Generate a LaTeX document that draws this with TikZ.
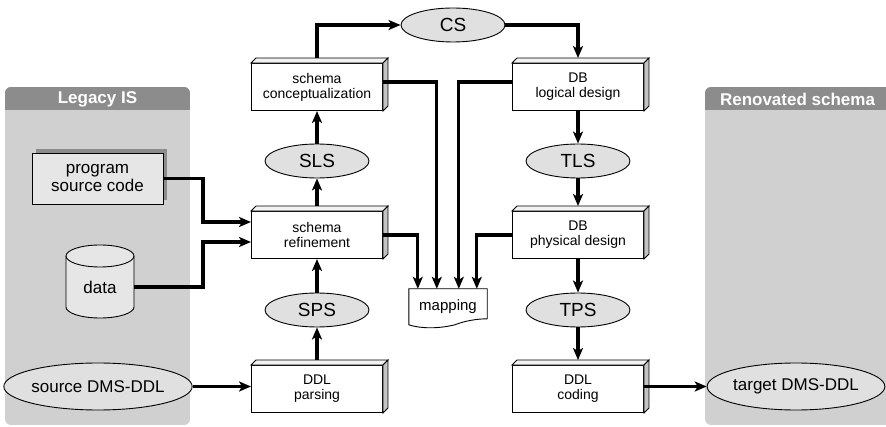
\documentclass[tikz,border=0pt]{standalone}
\usepackage{fontspec}
\setmainfont{Liberation Sans}
\usetikzlibrary{arrows.meta,calc,shapes.geometric}
\definecolor{panel}{RGB}{208,208,208}
\definecolor{panelhead}{RGB}{140,140,140}
\definecolor{ellfill}{RGB}{224,224,224}
\definecolor{sidefill}{RGB}{195,195,195}
\definecolor{topfill}{RGB}{242,242,242}
\definecolor{psfill}{RGB}{230,230,230}
\definecolor{shadowc}{RGB}{140,140,140}
\newcommand\boxdepth[1]{%
  \draw[line width=0.9pt, fill=topfill] (#1.north west) -- ++(5,-5) -- ($(#1.north east)+(5,-5)$) -- (#1.north east) -- cycle;
  \draw[line width=0.9pt, fill=sidefill] (#1.north east) -- ++(5,-5) -- ($(#1.south east)+(5,-5)$) -- (#1.south east) -- cycle;}
\begin{document}
\begin{tikzpicture}[x=1pt,y=-1pt,
  box3d/.style={draw, line width=0.9pt, fill=white, minimum width=131pt, minimum height=47pt, align=center, font=\fontsize{14}{15}\selectfont, inner sep=0pt},
  oval/.style={ellipse, draw, line width=0.9pt, fill=ellfill, minimum width=104pt, minimum height=34pt, font=\fontsize{19}{20}\selectfont, inner sep=0pt},
  bigoval/.style={oval, minimum width=172pt, minimum height=47pt, font=\fontsize{17}{18}\selectfont},
  flow/.style={line width=3.3pt, -{Stealth[length=12pt,width=10pt,inset=3pt]}},
  headtext/.style={font=\bfseries\fontsize{17}{18}\selectfont, text=white, inner sep=0pt},
  ]
\useasboundingbox (0,0) rectangle (886,427);
% panels
\begin{scope}
  \clip[rounded corners=6pt] (5,87) rectangle (190,425);
  \fill[panel] (5,87) rectangle (190,425);
  \fill[panelhead] (5,87) rectangle (190,110);
\end{scope}
\begin{scope}
  \clip[rounded corners=6pt] (705,87) rectangle (900,425);
  \fill[panel] (705,87) rectangle (886,425);
  \fill[panelhead] (705,87) rectangle (886,110);
\end{scope}
\node[headtext] (lh) at (97.5,99) {Legacy IS};
\node[headtext] (rh) at (797.5,99) {Renovated schema};

% legacy items
\fill[shadowc] (36,149) rectangle (167,200);
\node[draw, line width=0.9pt, fill=psfill, minimum width=131pt, minimum height=51pt, inner sep=0pt, align=center, font=\fontsize{17}{18}\selectfont] (psc) at (97.5,178.5) {program\\source code};
\draw[line width=0.9pt, fill=psfill] (66,256) -- (66,307) arc[start angle=180,end angle=360,x radius=34pt,y radius=11pt] -- (134,256) arc[start angle=0,end angle=180,x radius=34pt,y radius=11pt] -- cycle;
\draw[line width=0.9pt] (66,256) arc[start angle=180,end angle=360,x radius=34pt,y radius=11pt];
\node[minimum width=68pt, inner sep=0pt, font=\fontsize{17}{18}\selectfont] (data) at (100,287) {data};
\node[bigoval] (src) at (98,386.5) {source DMS-DDL};
\node[bigoval] (tgt) at (796,386.5) {target DMS-DDL};

% process boxes
\node[box3d] (sc) at (317,87) {schema\\conceptualization};
\node[box3d] (sr) at (317,235) {schema\\refinement};
\node[box3d] (dp) at (317,389) {DDL\\parsing};
\node[box3d] (ld) at (578,87) {DB\\logical design};
\node[box3d] (pd) at (578,235) {DB\\physical design};
\node[box3d] (dc) at (578,389) {DDL\\coding};
\boxdepth{sc}\boxdepth{sr}\boxdepth{dp}\boxdepth{ld}\boxdepth{pd}\boxdepth{dc}

% schemas
\node[oval] (cs) at (453,25) {CS};
\node[oval] (sls) at (317,161) {SLS};
\node[oval] (sps) at (317,310) {SPS};
\node[oval] (tls) at (578,161) {TLS};
\node[oval] (tps) at (578,310) {TPS};

% mapping document
\node[minimum width=78pt, minimum height=34pt, inner sep=0pt] (map) at (448,306) {};
\draw[line width=0.9pt, fill=white] (map.north west) -- (map.north east) -- ($(map.north east)+(0,30)$)
  .. controls ($(map.north east)+(-10,30)$) and ($(map.north east)+(-22,32)$) .. ($(map.north west)+(46,36)$)
  .. controls ($(map.north west)+(30,40)$) and ($(map.north west)+(12,40)$) .. ($(map.north west)+(0,36)$) -- cycle;
\node[inner sep=0pt, font=\fontsize{15}{16}\selectfont] (maptext) at (448,307) {mapping};

% connectors
\coordinate (j1) at (203,0);
\draw[flow] (psc.east) -- (psc.east -| j1) |- ($(sr.west)+(0,-13)$);
\draw[flow] (data.east) -- (data.east -| j1) |- ($(sr.west)+(0,7)$);
\draw[flow] (src.east) -- (src.east -| dp.west);
\draw[flow] ($(dp.north)+(0,-5)$) -- (sps.south);
\draw[flow] (sps.north) -- (sr.south);
\draw[flow] ($(sr.north)+(0,-5)$) -- (sls.south);
\draw[flow] (sls.north) -- (sc.south);
\draw[flow] ($(sc.north)+(0,-5)$) |- (cs.west);
\draw[flow] (cs.east) -| ($(ld.north)+(0,-5)$);
\draw[flow] (ld.south) -- (tls.north);
\draw[flow] (tls.south) -- ($(pd.north)+(0,-5)$);
\draw[flow] (pd.south) -- (tps.north);
\draw[flow] (tps.south) -- ($(dc.north)+(0,-5)$);
\draw[flow] (tgt.west -| dc.east) -- (tgt.west);
\draw[flow] (sr.east) -| ($(map.north west)+(9,0)$);
\draw[flow] ([yshift=5pt]sc.east) -| ($(map.north west)+(28,0)$);
\draw[flow] ([yshift=5pt]ld.west) -| ($(map.north west)+(50,0)$);
\draw[flow] (pd.west) -| ($(map.north west)+(68,0)$);
\end{tikzpicture}
\end{document}
